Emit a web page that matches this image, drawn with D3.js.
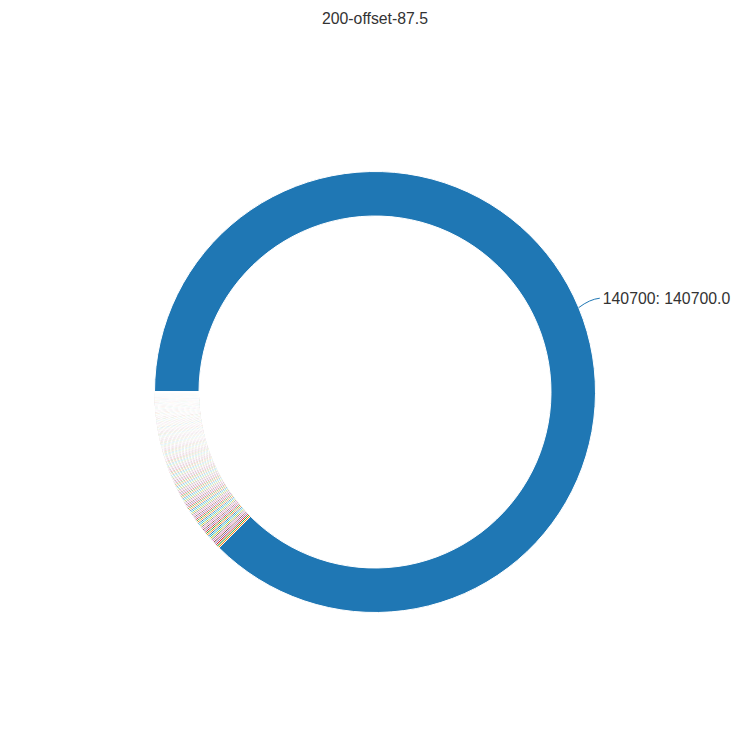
<!DOCTYPE html>
<html>
<head>
<meta charset="utf-8">
<script src="https://cdn.jsdelivr.net/npm/d3@7"></script>
<style>
  html, body { margin: 0; padding: 0; background: #fff; }
  svg { display: block; }
</style>
</head>
<body>
<svg id="chart" width="750" height="750"></svg>
<script>
const title = "200-offset-87.5";
const offsetLabel = "140700";
const offsetValue = 140700;
const smallValues = [
  200,199,198,197,196,195,194,193,192,191,190,189,188,187,186,185,184,183,182,181,
  180,179,178,177,176,175,174,173,172,171,170,169,168,167,166,165,164,163,162,161,
  160,159,158,157,156,155,154,153,152,151,150,149,148,147,146,145,144,143,142,141,
  140,139,138,137,136,135,134,133,132,131,130,129,128,127,126,125,124,123,122,121,
  120,119,118,117,116,115,114,113,112,111,110,109,108,107,106,105,104,103,102,101,
  100,99,98,97,96,95,94,93,92,91,90,89,88,87,86,85,84,83,82,81,
  80,79,78,77,76,75,74,73,72,71,70,69,68,67,66,65,64,63,62,61,
  60,59,58,57,56,55,54,53,52,51,50,49,48,47,46,45,44,43,42,41,
  40,39,38,37,36,35,34,33,32,31,30,29,28,27,26,25,24,23,22,21,
  20,19,18,17,16,15,14,13,12,11,10,9,8,7,6,5,4,3,2,1
];
const labels = [offsetLabel].concat(smallValues.map(String));
const values = [offsetValue].concat(smallValues);
const data = labels.map((l, i) => ({ label: l, value: values[i] }));

const svg = d3.select("#chart");
const cx = 375, cy = 392, outerR = 220.5, innerR = 176;
const font = "Helvetica, Arial, 'Liberation Sans', sans-serif";

svg.append("text")
  .attr("x", 375).attr("y", 24)
  .attr("text-anchor", "middle")
  .attr("font-family", font)
  .attr("font-size", 15.8)
  .attr("fill", "#333")
  .text(title);

const color = d3.scaleOrdinal().domain(d3.range(data.length)).range(d3.schemeCategory10);

const pie = d3.pie().value(d => d.value).sort(null)
  .startAngle(-Math.PI / 2).endAngle(1.5 * Math.PI);
const arcs = pie(data);
const arc = d3.arc().innerRadius(innerR).outerRadius(outerR);

const g = svg.append("g").attr("transform", `translate(${cx},${cy})`);
g.selectAll("path.slice").data(arcs).enter().append("path")
  .attr("class", "slice")
  .attr("d", arc)
  .attr("fill", (d, i) => color(i))
  .attr("stroke", "#fff")
  .attr("stroke-width", 1);

// label for the big slice
const big = arcs[0];
const mid = (big.startAngle + big.endAngle) / 2;
const p0 = [outerR * Math.sin(mid), -outerR * Math.cos(mid)];
const p1 = [(outerR + 12) * Math.sin(mid), -(outerR + 22) * Math.cos(mid)];
const p2 = [p1[0] + 10, p1[1] - 1];
g.append("path")
  .attr("d", `M${p0[0]},${p0[1]} Q${p1[0]},${p1[1]} ${p2[0]},${p2[1]}`)
  .attr("fill", "none")
  .attr("stroke", color(0))
  .attr("stroke-width", 1);
g.append("text")
  .attr("x", p2[0] + 3).attr("y", p2[1])
  .attr("dy", "0.35em")
  .attr("font-family", font)
  .attr("font-size", 15.8)
  .attr("fill", "#333")
  .text(`${big.data.label}: ${big.data.value.toFixed(1)}`);
</script>
</body>
</html>
